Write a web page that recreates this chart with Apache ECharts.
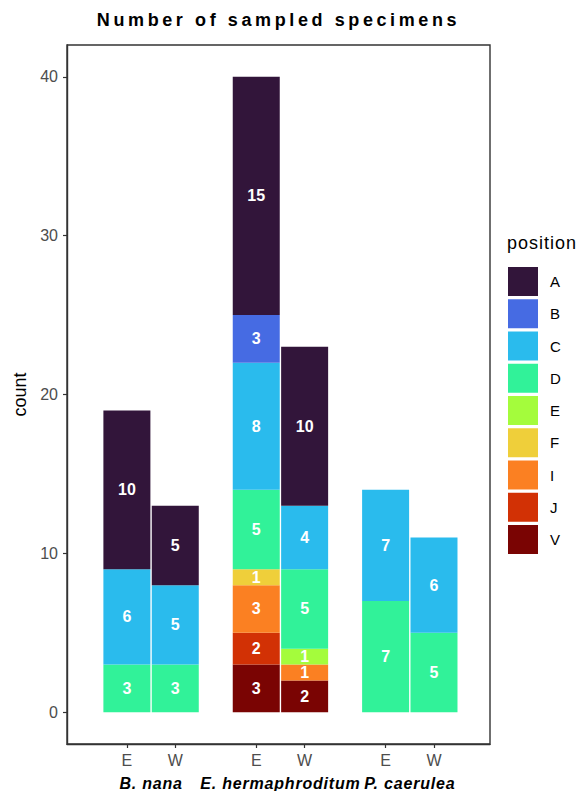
<!DOCTYPE html>
<html>
<head>
<meta charset="utf-8">
<script src="https://cdn.jsdelivr.net/npm/echarts@6/dist/echarts.min.js"></script>
<style>
html,body{margin:0;padding:0;background:#fff;}
#chart{width:585px;height:791px;}
</style>
</head>
<body>
<div id="chart"></div>
<script>
// ---- data ----
const species = ['B. nana', 'E. hermaphroditum', 'P. caerulea'];
const sites = ['E', 'W'];
// bar order: B.nana E, B.nana W, E.herm E, E.herm W, P.caer E, P.caer W
const positions = ['A', 'B', 'C', 'D', 'E', 'F', 'I', 'J', 'V'];
const countA = [10, 5, 15, 10, 0, 0];
const countB = [0, 0, 3, 0, 0, 0];
const countC = [6, 5, 8, 4, 7, 6];
const countD = [3, 3, 5, 5, 7, 5];
const countE = [0, 0, 0, 1, 0, 0];
const countF = [0, 0, 1, 0, 0, 0];
const countI = [0, 0, 3, 1, 0, 0];
const countJ = [0, 0, 2, 0, 0, 0];
const countV = [0, 0, 3, 2, 0, 0];
const yTicks = [0, 10, 20, 30, 40];

const counts = {A: countA, B: countB, C: countC, D: countD, E: countE, F: countF, I: countI, J: countJ, V: countV};
const colors = {
  A: '#32153a', B: '#466be3', C: '#2abbed', D: '#31f299', E: '#a4fc3c',
  F: '#efcf3a', I: '#fb8022', J: '#d23105', V: '#7a0403'
};

// x layout (axis units): group centre = 1,2,3; sites dodged
const dodge = 0.187;
const barX = [];
const barLabel = {};
species.forEach((s, gi) => {
  sites.forEach((site, si) => {
    const x = gi + 1 + (si === 0 ? -dodge : dodge);
    barX.push(x);
    barLabel[x.toFixed(3)] = site;
  });
});

const font = '"Liberation Sans", Arial, Helvetica, sans-serif';
const titleText = 'Number of sampled specimens';

// stack bottom-to-top: V ... A
const stackOrder = positions.slice().reverse();
const series = stackOrder.map(p => ({
  name: p,
  type: 'bar',
  stack: 'total',
  barWidth: 47,
  encode: {x: 1, y: 0},
  itemStyle: {color: colors[p]},
  emphasis: {disabled: true},
  label: {
    show: true,
    position: 'inside',
    color: '#ffffff',
    fontWeight: 'bold',
    fontSize: 16,
    fontFamily: font,
    formatter: pr => (pr.value[0] > 0 ? String(pr.value[0]) : '')
  },
  data: counts[p].map((v, i) => [v, barX[i]])
}));

const chart = echarts.init(document.getElementById('chart'), null, {renderer: 'svg'});
chart.setOption({
  animation: false,
  backgroundColor: '#ffffff',
  title: [
    {
      text: titleText,
      left: 278.5,
      top: 11,
      textAlign: 'center',
      padding: 0,
      textStyle: {fontFamily: font, fontSize: 18, fontWeight: 'bold', color: '#000'}
    },
    {
      text: 'position',
      left: 507,
      top: 234,
      padding: 0,
      textStyle: {fontFamily: font, fontSize: 18, fontWeight: 'normal', color: '#000'}
    }
  ],
  legend: {
    data: positions,
    orient: 'vertical',
    left: 508,
    top: 267,
    padding: 0,
    icon: 'rect',
    itemWidth: 30,
    itemHeight: 29,
    itemGap: 3.25,
    selectedMode: false,
    textStyle: {fontFamily: font, fontSize: 15, color: '#000', padding: [0, 0, 0, 7]}
  },
  grid: {
    left: 67, right: 95, top: 45, bottom: 47,
    show: true, borderColor: '#333333', borderWidth: 1.4, backgroundColor: 'transparent',
    containLabel: false
  },
  xAxis: [
    {
      type: 'value',
      min: 0.35, max: 3.62,
      position: 'bottom',
      splitLine: {show: false},
      axisLine: {show: true, onZero: false, lineStyle: {color: '#333333', width: 1.4}},
      axisTick: {show: true, length: 4, customValues: barX, lineStyle: {color: '#333333', width: 1.2}},
      axisLabel: {
        customValues: barX, margin: 8,
        fontFamily: font, fontSize: 16, color: '#4d4d4d',
        formatter: v => barLabel[Number(v).toFixed(3)] || ''
      }
    },
    {
      type: 'value',
      min: 0.35, max: 3.62,
      position: 'bottom',
      offset: 26,
      splitLine: {show: false},
      axisLine: {show: false, onZero: false},
      axisTick: {show: false},
      axisLabel: {
        customValues: [1, 2, 3], margin: 5,
        fontFamily: font, fontSize: 16, fontWeight: 'bold', fontStyle: 'italic', color: '#000',
        formatter: v => species[Math.round(v) - 1] || ''
      }
    }
  ],
  yAxis: {
    type: 'value',
    min: -2, max: 42,
    name: 'count',
    nameLocation: 'middle',
    nameRotate: 90,
    nameGap: 37,
    nameTextStyle: {fontFamily: font, fontSize: 18, color: '#000'},
    splitLine: {show: false},
    axisLine: {show: true, onZero: false, lineStyle: {color: '#333333', width: 1.4}},
    axisTick: {show: true, length: 4, customValues: yTicks, lineStyle: {color: '#333333', width: 1.2}},
    axisLabel: {customValues: yTicks, margin: 9, fontFamily: font, fontSize: 16, color: '#4d4d4d'}
  },
  series: series
});

// widen letter spacing of some texts as in the reference rendering
const spacing = {};
spacing[titleText] = '3.6px';
spacing['position'] = '1px';
species.forEach(s => { spacing[s] = '0.8px'; });
document.querySelectorAll('#chart svg text').forEach(t => {
  const s = spacing[t.textContent];
  if (s) t.style.letterSpacing = s;
});
</script>
</body>
</html>
